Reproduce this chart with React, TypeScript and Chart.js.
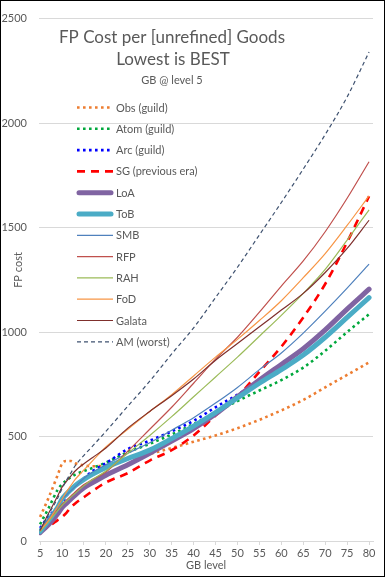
import React, { useEffect, useRef } from "react";
import { Chart, registerables } from "chart.js";
Chart.register(...registerables);

// GB levels at which values were read
const levels = [5, 7, 9, 10, 11, 12, 13, 15, 17, 20, 25, 30, 35, 40, 45, 50, 55, 60, 65, 70, 75, 80];

const obs = [115, 210, 315, 370, 383, 383, 372, 362, 358, 362, 392, 417, 445, 475, 505, 540, 580, 625, 675, 735, 795, 855];
const atom = [80, 160, 245, 272, 290, 305, 318, 335, 350, 375, 425, 465, 510, 560, 615, 670, 720, 770, 830, 910, 1000, 1085];
const arc = [62, 120, 160, 185, 215, 245, 265, 300, 335, 372, 440, 480, 525, 575, 640, 700, 765, null, null, null, null, null];
const sg = [45, 70, 100, 115, 135, 160, 180, 210, 240, 280, 325, 385, 435, 505, 600, 690, 810, 930, 1070, 1230, 1430, 1650];
const loa = [40, 80, 130, 160, 180, 200, 220, 255, 280, 315, 365, 420, 478, 538, 608, 690, 770, 845, 920, 1010, 1110, 1205];
const tob = [45, 100, 160, 200, 225, 245, 265, 295, 320, 352, 395, 435, 490, 550, 615, 685, 755, 820, 890, 975, 1070, 1165];
const smb = [50, 110, 165, 200, 220, 240, 260, 300, 330, 365, 420, 470, 530, 590, 660, 735, 820, 900, 995, 1100, 1210, 1325];
const rfp = [50, 100, 150, 175, 195, 215, 235, 270, 295, 330, 430, 535, 640, 755, 870, 975, 1095, 1220, 1340, 1480, 1640, 1815];
const rah = [45, 95, 145, 170, 190, 210, 228, 265, 295, 335, 420, 505, 595, 690, 785, 880, 980, 1080, 1185, 1300, 1440, 1585];
const fod = [50, 100, 165, 200, 235, 265, 295, 340, 385, 450, 535, 620, 700, 790, 880, 965, 1055, 1150, 1260, 1375, 1510, 1652];
const galata = [50, 135, 215, 258, 285, 310, 335, 370, 400, 445, 540, 620, 695, 775, 865, 945, 1025, 1105, 1185, 1285, 1400, 1535];
const am = [55, 130, 205, 250, 290, 325, 360, 410, 455, 525, 645, 765, 895, 1020, 1165, 1310, 1465, 1620, 1780, 1945, 2125, 2340];

const xTickLevels = [5, 10, 15, 20, 25, 30, 35, 40, 45, 50, 55, 60, 65, 70, 75, 80];
const titleLine1 = "FP Cost per [unrefined] Goods";
const titleLine2 = "Lowest is BEST";
const subTitle = "GB @ level 5";
const yTitle = "FP cost";
const xTitle = "GB level";

const FONT = 'Lato, "Open Sans", sans-serif';
const TEXT = "#595959";

type S = { label: string; data: (number | null)[]; color: string; width: number; dash: number[]; legendDash?: number[]; cap?: CanvasLineCap };
const series: S[] = [
  { label: "Obs (guild)", data: obs, color: "#ED7D31", width: 2.6, dash: [2.6, 3.4] },
  { label: "Atom (guild)", data: atom, color: "#00A83C", width: 2.6, dash: [2.6, 3.4] },
  { label: "Arc (guild)", data: arc, color: "#0000FF", width: 2.6, dash: [2.6, 3.4] },
  { label: "SG (previous era)", data: sg, color: "#FF0000", width: 2.6, dash: [8, 6], legendDash: [8, 6] },
  { label: "LoA", data: loa, color: "#8064A2", width: 5, dash: [], cap: "round" },
  { label: "ToB", data: tob, color: "#4BACC6", width: 5, dash: [], cap: "round" },
  { label: "SMB", data: smb, color: "#4F81BD", width: 1.2, dash: [] },
  { label: "RFP", data: rfp, color: "#C0504D", width: 1.2, dash: [] },
  { label: "RAH", data: rah, color: "#9BBB59", width: 1.2, dash: [] },
  { label: "FoD", data: fod, color: "#F79646", width: 1.2, dash: [] },
  { label: "Galata", data: galata, color: "#7F2F2C", width: 1.2, dash: [] },
  { label: "AM (worst)", data: am, color: "#3F5270", width: 1.2, dash: [4, 3] },
];

const decorPlugin = {
  id: "decor",
  afterDatasetsDraw(chart: any) {
    const ctx = chart.ctx as CanvasRenderingContext2D;
    ctx.save();
    ctx.fillStyle = TEXT;
    ctx.textAlign = "center";
    ctx.textBaseline = "middle";
    ctx.font = `17px ${FONT}`;
    ctx.fillText(titleLine1, 172, 38);
    ctx.fillText(titleLine2, 173, 60);
    ctx.font = `11px ${FONT}`;
    ctx.fillText(subTitle, 172, 80);
    ctx.fillText(xTitle, 206, 565);
    ctx.save();
    ctx.translate(18, 270);
    ctx.rotate(-Math.PI / 2);
    ctx.fillText(yTitle, 0, 0);
    ctx.restore();
    ctx.textAlign = "left";
    series.forEach((s, i) => {
      const y = 107.5 + i * 21.3;
      ctx.save();
      ctx.strokeStyle = s.color;
      ctx.lineWidth = s.width;
      ctx.lineCap = s.cap || "butt";
      ctx.setLineDash(s.legendDash || s.dash);
      ctx.beginPath();
      const x0 = s.cap === "round" ? 79 : 77;
      const x1 = s.cap === "round" ? 111 : 113;
      ctx.moveTo(x0, y);
      ctx.lineTo(x1, y);
      ctx.stroke();
      ctx.restore();
      ctx.fillStyle = TEXT;
      ctx.font = `11px ${FONT}`;
      ctx.fillText(s.label, 116, y + 0.5);
    });
    ctx.strokeStyle = "#000";
    ctx.lineWidth = 1;
    ctx.setLineDash([]);
    ctx.strokeRect(0.5, 0.5, 384, 576);
    ctx.restore();
  },
};

export default function App() {
  const ref = useRef<HTMLCanvasElement>(null);
  useEffect(() => {
    if (!ref.current) return;
    const n = series.length;
    const chart = new Chart(ref.current, {
      type: "line",
      data: {
        datasets: series.map((s, i) => ({
          label: s.label,
          data: levels
            .map((l, k) => ({ x: l, y: s.data[k] }))
            .filter((p) => p.y !== null) as any,
          borderColor: s.color,
          backgroundColor: s.color,
          borderWidth: s.width,
          borderDash: s.dash,
          borderCapStyle: s.cap || "butt",
          borderJoinStyle: "round",
          pointRadius: 0,
          fill: false,
          cubicInterpolationMode: "monotone",
          order: n - 1 - i,
        })),
      },
      options: {
        responsive: false,
        animation: false,
        layout: { padding: { top: 14, right: 12, left: 0, bottom: 0 } },
        plugins: { legend: { display: false }, tooltip: { enabled: false }, title: { display: false } },
        scales: {
          x: {
            type: "linear",
            min: 4.75,
            max: 80.9,
            afterBuildTicks: (axis: any) => {
              axis.ticks = xTickLevels.map((v) => ({ value: v }));
            },
            afterFit: (s: any) => {
              s.height = 36;
            },
            grid: { drawOnChartArea: false, drawTicks: true, tickLength: 4, color: "#D9D9D9" },
            border: { display: true, color: "#D9D9D9" },
            ticks: { color: TEXT, font: { family: FONT, size: 11 }, padding: 2, maxRotation: 0, autoSkip: false, callback: (v: any) => String(v) },
          },
          y: {
            min: 0,
            max: 2500,
            afterFit: (s: any) => {
              s.width = 39;
            },
            ticks: { stepSize: 500, color: TEXT, font: { family: FONT, size: 11 }, padding: 12, callback: (v: any) => String(v) },
            grid: { color: "#D9D9D9", drawTicks: false },
            border: { display: false },
          },
        },
      },
      plugins: [decorPlugin],
    } as any);
    return () => chart.destroy();
  }, []);
  return (
    <div style={{ position: "fixed", left: 0, top: 0, width: 385, height: 577, background: "#fff" }}>
      <canvas ref={ref} width={385} height={577} style={{ display: "block" }} />
    </div>
  );
}
